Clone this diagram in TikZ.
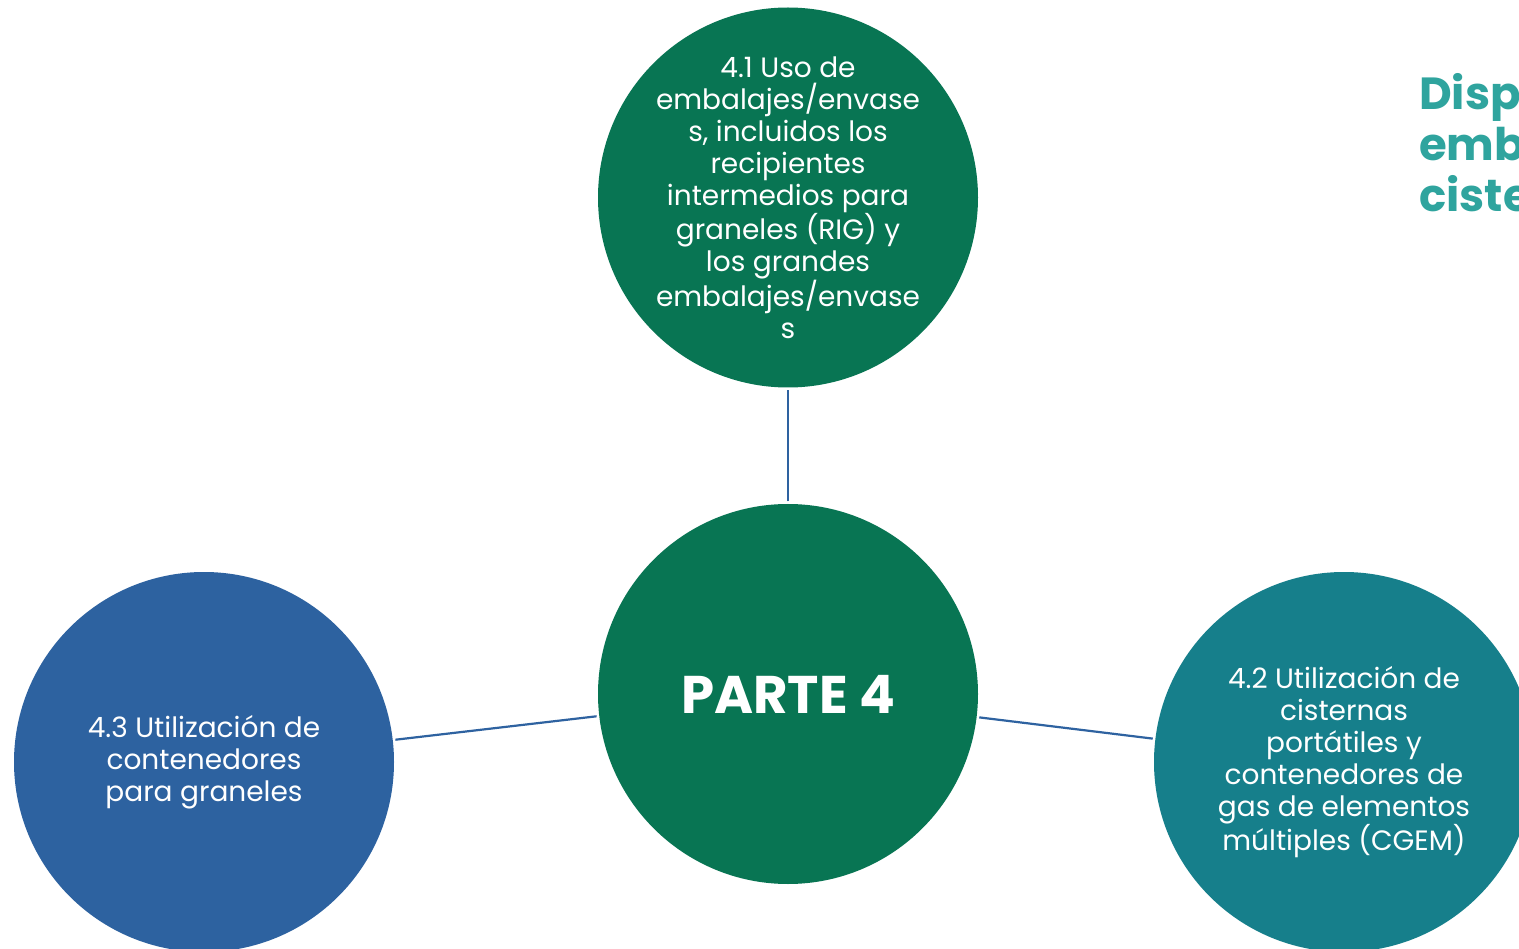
\documentclass[tikz,border=0pt]{standalone}
\usepackage{fontspec}
\setmainfont{Poppins}
\definecolor{cgreen}{HTML}{087553}
\definecolor{cblue}{HTML}{2D62A0}
\definecolor{cteal}{HTML}{167F8B}
\definecolor{ctitle}{HTML}{2FA49E}
\definecolor{cline}{HTML}{2E62A0}
\begin{document}
\begin{tikzpicture}[x=1pt,y=-1pt,
  bubble/.style={circle,minimum size=380pt,inner sep=0pt},
  btext/.style={text=white,align=center,inner sep=0pt,font=\fontsize{28}{32}\selectfont},
  link/.style={draw=cline,line width=2.2pt,shorten <=2.5pt,shorten >=2.5pt}]
\clip (0,0) rectangle (1519,949);
\fill[white] (0,0) rectangle (1519,949);
\node[bubble,fill=cgreen] (top) at (788,197.5) {};
\node[btext] (toptext) at (top.center) {4.1 Uso de\\embalajes/envase\\s, incluidos los\\recipientes\\intermedios para\\graneles (RIG) y\\los grandes\\embalajes/envase\\s};
\node[bubble,fill=cgreen] (ctr) at (788,694) {};
\node[btext,font=\fontsize{53}{56}\selectfont\bfseries] (ctrtext) at (ctr.center) {PARTE 4};
\node[bubble,fill=cblue] (left) at (204,762) {};
\node[btext] (lefttext) at (left.center) {4.3 Utilización de\\contenedores\\para graneles};
\node[bubble,fill=cteal] (right) at (1344,762) {};
\node[btext] (righttext) at (right.center) {4.2 Utilización de\\cisternas\\portátiles y\\contenedores de\\gas de elementos\\múltiples (CGEM)};
\node[anchor=north west,inner sep=0pt,text=ctitle,align=left,font=\fontsize{45}{51}\selectfont\bfseries] (title) at (1419,73) {Disposiciones\\embalajes\\cisternas};
\draw[link] (ctr) -- (top);
\draw[link] (ctr) -- (left);
\draw[link] (ctr) -- (right);
\end{tikzpicture}
\end{document}
